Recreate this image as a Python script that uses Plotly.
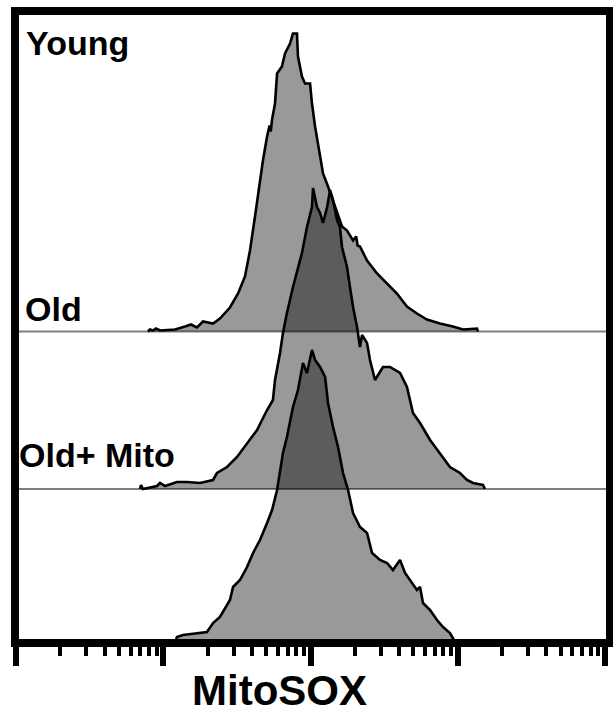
import plotly.graph_objects as go

# ---- data: log10(MitoSOX intensity) and event counts for each sample ----
young_logx = [1.896, 1.910, 1.930, 1.951, 1.978, 2.080, 2.148, 2.188, 2.229, 2.270,
              2.338, 2.385, 2.453, 2.508, 2.555, 2.589, 2.623, 2.657, 2.677, 2.705,
              2.722, 2.730, 2.739, 2.759, 2.773, 2.806, 2.827, 2.861, 2.881, 2.908, 2.915, 2.942,
              2.963, 2.997, 3.010, 3.031, 3.065, 3.085, 3.119, 3.153, 3.187, 3.214,
              3.248, 3.289, 3.310, 3.320, 3.336, 3.384, 3.452, 3.520, 3.587, 3.655, 3.723, 3.791,
              3.879, 3.967, 4.036, 4.131, 4.137]
young_counts = [0, 2, 1, 3, 1, 2, 5, 7, 4, 10,
                8, 13, 24, 38, 55, 81, 115, 151, 171, 195,
                206, 200, 212, 228, 258, 265, 278, 288, 298, 298, 275, 255,
                248, 248, 228, 205, 178, 158, 145, 131, 115, 105,
                101, 91, 95, 86, 85, 71, 58, 48, 38, 25, 18, 12,
                8, 5, 2, 3, 0]

old_logx = [1.842, 1.849, 1.862, 1.958, 1.978, 2.012, 2.093, 2.161, 2.250, 2.338,
            2.365, 2.433, 2.501, 2.569, 2.637, 2.671, 2.705, 2.745, 2.759, 2.793,
            2.813, 2.840, 2.881, 2.942, 2.976, 3.010, 3.017, 3.044, 3.065, 3.085,
            3.113, 3.133, 3.153, 3.180, 3.200, 3.214, 3.248, 3.268, 3.289, 3.316,
            3.336, 3.350, 3.384, 3.404, 3.438, 3.492, 3.540, 3.608, 3.655, 3.696,
            3.744, 3.812, 3.879, 3.947, 4.015, 4.063, 4.104, 4.171, 4.185]
old_counts = [0, 4, 0, 3, 6, 3, 7, 7, 6, 9,
              16, 22, 32, 46, 59, 69, 79, 89, 109, 136,
              156, 176, 202, 236, 262, 282, 301, 282, 276, 266,
              282, 299, 289, 269, 262, 242, 222, 202, 182, 162,
              142, 154, 146, 129, 109, 122, 122, 116, 102, 76,
              66, 49, 36, 22, 16, 9, 6, 4, 0]

oldmito_logx = [2.080, 2.093, 2.134, 2.229, 2.297, 2.338, 2.385, 2.453, 2.474, 2.521,
                2.569, 2.610, 2.657, 2.705, 2.739, 2.773, 2.793, 2.813, 2.840, 2.861,
                2.881, 2.915, 2.949, 2.976, 3.010, 3.031, 3.065, 3.099, 3.119, 3.153,
                3.187, 3.221, 3.255, 3.289, 3.336, 3.384, 3.418, 3.472, 3.520, 3.560,
                3.608, 3.642, 3.676, 3.723, 3.744, 3.764, 3.812, 3.859, 3.900, 3.947,
                3.967, 3.981]
oldmito_counts = [0, 6, 8, 10, 11, 20, 26, 43, 56, 63,
                  76, 90, 103, 120, 133, 153, 170, 190, 206, 223,
                  236, 253, 280, 270, 293, 283, 276, 266, 240, 216,
                  196, 170, 153, 130, 116, 110, 90, 83, 80, 73,
                  83, 70, 63, 53, 56, 40, 33, 23, 16, 10,
                  5, 0]

sample_names = ["Young", "Old", "Old+ Mito"]
major_ticks = [1e1, 1e2, 1e3, 1e4, 1e5]
minor_ticks = [m * d for d in [1e1, 1e2, 1e3, 1e4] for m in range(2, 10)]

# ---- layout constants ----
W, H = 613, 715
ML, MR, MT, MB = 15, 3, 11, 72
PLOT_H = H - MT - MB
offsets = [311.5, 154, 0]          # vertical stagger of each histogram
FILL = "rgba(0,0,0,0.40)"
FONT = "Liberation Sans, Arial, sans-serif"

series = [(young_logx, young_counts), (old_logx, old_counts), (oldmito_logx, oldmito_counts)]

fig = go.Figure()
for (lx, cnt), off in zip(series, offsets):
    xs = [10 ** v for v in lx]
    ys = [off + c for c in cnt]
    fig.add_trace(go.Scatter(x=xs, y=ys, mode="lines", fill="toself", fillcolor=FILL,
                             line=dict(width=0, color="rgba(0,0,0,0)"), hoverinfo="skip"))
for (lx, cnt), off in zip(series, offsets):
    xs = [10 ** v for v in lx]
    ys = [off + c for c in cnt]
    fig.add_trace(go.Scatter(x=xs, y=ys, mode="lines",
                             line=dict(width=2.6, color="black"), hoverinfo="skip"))

shapes = []
for off in offsets[:2]:
    shapes.append(dict(type="line", xref="paper", yref="y", x0=0, x1=1, y0=off, y1=off,
                       line=dict(color="#808080", width=2), layer="below"))
shapes.append(dict(type="rect", xref="paper", yref="paper", x0=0, x1=1, y0=0, y1=1,
                   line=dict(color="black", width=8), layer="above"))

def px_to_paper_x(px):
    return (px - ML) / (W - ML - MR)

def py_to_paper_y(py):
    return (H - MB - py) / PLOT_H

label_pos = [(24, 43), (23, 309), (17, 455)]
annotations = []
for name, (px, py) in zip(sample_names, label_pos):
    annotations.append(dict(text=name, xref="paper", yref="paper",
                            x=px_to_paper_x(px), y=py_to_paper_y(py),
                            xanchor="left", yanchor="middle", showarrow=False,
                            font=dict(family=FONT, size=34, color="black", weight="bold")))
annotations.append(dict(text="MitoSOX", xref="paper", yref="paper",
                        x=px_to_paper_x(279), y=py_to_paper_y(690),
                        xanchor="center", yanchor="middle", showarrow=False,
                        font=dict(family=FONT, size=42, color="black", weight="bold")))

fig.update_layout(
    width=W, height=H, margin=dict(l=ML, r=MR, t=MT, b=MB),
    paper_bgcolor="white", plot_bgcolor="white", showlegend=False,
    shapes=shapes, annotations=annotations,
    xaxis=dict(type="log", range=[1 - 1 / 147.25, 5 + 5 / 147.25],
               showgrid=False, zeroline=False, showline=False,
               tickmode="array", tickvals=major_ticks, ticks="outside",
               ticklen=22, tickwidth=6, tickcolor="black", showticklabels=False,
               minor=dict(tickmode="array", tickvals=minor_ticks, ticks="outside",
                          ticklen=12, tickwidth=4, tickcolor="black", showgrid=False)),
    yaxis=dict(range=[0, PLOT_H], visible=False, showgrid=False, zeroline=False),
)

fig.write_html("out.html")
